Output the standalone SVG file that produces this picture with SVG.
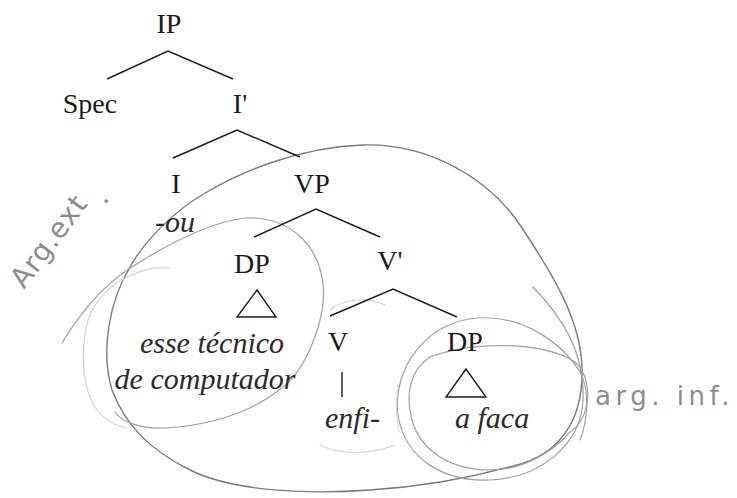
<svg xmlns="http://www.w3.org/2000/svg" width="737" height="498" viewBox="0 0 737 498">
<style>
.t{font-family:'Liberation Serif','Times New Roman',Times,'Nimbus Roman','Nimbus Roman No9 L','FreeSerif','Noto Serif','DejaVu Serif',serif;font-size:28px;fill:#1a1a1a;text-anchor:middle}
.i{font-family:'Liberation Serif','Times New Roman',Times,'Nimbus Roman','Nimbus Roman No9 L','FreeSerif','Noto Serif','DejaVu Serif',serif;font-size:30px;font-style:italic;fill:#2a2a2a}
.e{fill:none;stroke:#1a1a1a;stroke-width:1.4}
.p{fill:none;stroke:#7a7a7a;stroke-width:1.4;stroke-linecap:round}
.pl{fill:none;stroke:#a0a0a0;stroke-width:1.2;stroke-linecap:round}
.pf{fill:none;stroke:#d2d2d2;stroke-width:1.2;stroke-linecap:round}
.h{font-family:'DejaVu Sans',sans-serif;fill:#8c8c8c}
</style>
<rect width="737" height="498" fill="#ffffff"/>
<g id="pencil">
<path class="p" d="M207,192 C240,172 300,147 363,145 C430,143 490,180 520,225 C550,270 582,320 582,370 C583,420 560,455 513,466 C470,478 420,487 370,490 C300,495 230,490 190,470 C150,450 125,425 112,390 C100,350 110,300 130,267 C145,240 175,210 207,192 Z"/>
<path class="pl" d="M62,343 C85,305 110,280 135,265 C170,243 210,222 245,218 C290,216 318,245 323,283 C327,320 305,370 283,387 C255,410 215,425 165,428 C140,429 122,422 115,412"/>
<path class="pf" d="M170,268 C140,265 100,285 88,320 C80,350 82,390 97,410 C105,420 115,426 127,428"/>
<path class="pl" d="M533,287 C560,315 585,350 583,400 C581,445 540,478 490,480 C445,482 405,460 398,415 C392,370 425,322 477,318 C520,315 560,340 580,372 C590,390 588,420 580,440"/>
<path class="pl" d="M430,357 C470,342 540,340 575,362 C595,380 590,420 570,432 C550,455 520,470 490,470 C450,470 420,450 412,420 C405,395 410,370 430,357"/>
<path class="pf" d="M330,310 C345,297 370,298 385,305"/>
<path class="pf" d="M320,445 C340,455 370,455 395,445"/>
<path class="pf" d="M398,385 C396,400 396,420 399,432" stroke-dasharray="3 2"/>
</g>
<g id="connectors">
<polyline class="e" points="107,79 168,51 233,79"/>
<polyline class="e" points="173,158 237,130 300,157"/>
<polyline class="e" points="254,237 316,209 380,237"/>
<polyline class="e" points="330,316 393,289 457,317"/>
<line class="e" x1="342" y1="372" x2="342" y2="397"/>
<polygon class="e" points="257,290 237,317 276,317"/>
<polygon class="e" points="466,369 446,397 486,397"/>
</g>
<g id="IP"><text class="t" x="169" y="33">IP</text></g>
<g id="Spec"><text class="t" x="90" y="113">Spec</text></g>
<g id="Ibar"><text class="t" x="240" y="113">I'</text></g>
<g id="I"><text class="t" x="176" y="193">I</text><text class="i" x="155" y="232">-ou</text></g>
<g id="VP"><text class="t" x="312" y="193">VP</text></g>
<g id="DP1"><text class="t" x="252" y="273">DP</text>
<text class="i" x="212" y="353" text-anchor="middle">esse técnico</text>
<text class="i" x="205" y="389" text-anchor="middle">de computador</text></g>
<g id="Vbar"><text class="t" x="390" y="270">V'</text></g>
<g id="V"><text class="t" x="338" y="351">V</text><text class="i" x="325" y="428">enfi-</text></g>
<g id="DP2"><text class="t" x="465" y="351">DP</text><text class="i" x="455" y="428">a faca</text></g>
<g id="labels">
<text class="h" font-size="28" letter-spacing="1" transform="translate(24,290) rotate(-53)">Arg.ext<tspan dx="8" dy="14">.</tspan></text>
<text class="h" font-size="26" letter-spacing="4.5" x="595" y="405">arg. inf.</text>
</g>
</svg>
